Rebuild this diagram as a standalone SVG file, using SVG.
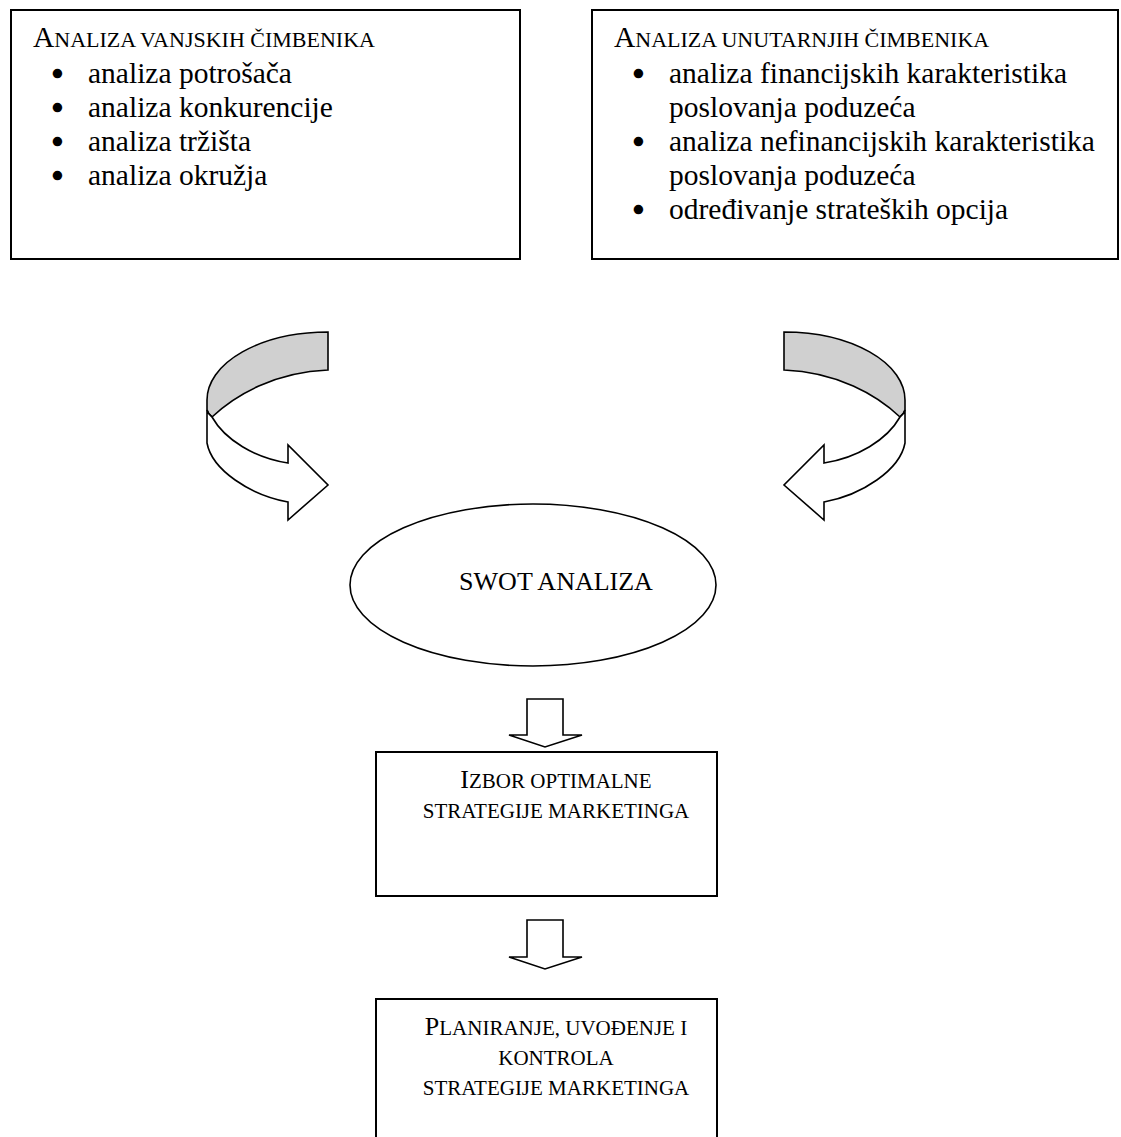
<svg xmlns="http://www.w3.org/2000/svg" xmlns:xlink="http://www.w3.org/1999/xlink" width="1121" height="1137" viewBox="0 0 1121 1137">
<style>
.box{fill:#fff;stroke:#000;stroke-width:2}
.shape{fill:#fff;stroke:#000;stroke-width:1.6;stroke-linejoin:miter}
.back{fill:#d0d0d0;stroke:#000;stroke-width:1.6}
text{font-family:"Liberation Serif","Times New Roman",serif;fill:#000}
.body{font-size:29.5px}
.big{font-size:29.5px}
.sc{font-size:22px}
.big2{font-size:26px}
.sc2{font-size:21px}
.bul{font-size:29.5px;stroke:#000;stroke-width:2.4;stroke-linejoin:round}
.c{text-anchor:middle}
</style>
<defs>
<g id="curvedArrow">
<path class="back" d="M328,332 A121,68 0 0 0 207,400 L207,410 Q208,414 212,417 C235,395 275,372 328,370 Z"/>
<path class="shape" d="M207,410 L207,443 C212,470 250,495 288,502 L288,520 L328,485 L288,445 L288,463 C255,458 225,440 212,417 Q208,414 207,410 Z"/>
</g>
</defs>
<rect width="1121" height="1137" fill="#fff"/>
<g id="connectors">
<use xlink:href="#curvedArrow" href="#curvedArrow"/>
<use xlink:href="#curvedArrow" href="#curvedArrow" transform="translate(1112,0) scale(-1,1)"/>
<path class="shape" d="M527,699 L563,699 L563,735 L582,735 L545,747 L509,735 L527,735 Z"/>
<path class="shape" d="M527,920 L563,920 L563,957 L582,957 L545,969 L509,957 L527,957 Z"/>
</g>
<g id="node-external">
<rect class="box" x="11" y="10" width="509" height="249"/>
<text x="33" y="47"><tspan class="big">A</tspan><tspan class="sc">NALIZA VANJSKIH ČIMBENIKA</tspan></text>
<text class="bul c" x="57.5" y="84">•</text><text class="body" x="88" y="83">analiza potrošača</text>
<text class="bul c" x="57.5" y="118">•</text><text class="body" x="88" y="117">analiza konkurencije</text>
<text class="bul c" x="57.5" y="152">•</text><text class="body" x="88" y="151">analiza tržišta</text>
<text class="bul c" x="57.5" y="186">•</text><text class="body" x="88" y="185">analiza okružja</text>
</g>
<g id="node-internal">
<rect class="box" x="592" y="10" width="526" height="249"/>
<text x="614" y="47"><tspan class="big">A</tspan><tspan class="sc">NALIZA UNUTARNJIH ČIMBENIKA</tspan></text>
<text class="bul c" x="638.5" y="84">•</text><text class="body" x="669" y="83">analiza financijskih karakteristika</text>
<text class="body" x="669" y="117">poslovanja poduzeća</text>
<text class="bul c" x="638.5" y="152">•</text><text class="body" x="669" y="151">analiza nefinancijskih karakteristika</text>
<text class="body" x="669" y="185">poslovanja poduzeća</text>
<text class="bul c" x="638.5" y="220">•</text><text class="body" x="669" y="219">određivanje strateških opcija</text>
</g>
<g id="node-swot">
<ellipse class="shape" cx="533" cy="585" rx="183" ry="81"/>
<text class="big2 c" x="556" y="590">SWOT ANALIZA</text>
</g>
<g id="node-izbor">
<rect class="box" x="376" y="752" width="341" height="144"/>
<text class="c" x="556" y="788"><tspan class="big2">I</tspan><tspan class="sc2">ZBOR OPTIMALNE</tspan></text>
<text class="c sc2" x="556" y="818">STRATEGIJE MARKETINGA</text>
</g>
<g id="node-planiranje">
<rect class="box" x="376" y="999" width="341" height="160"/>
<text class="c" x="556" y="1035"><tspan class="big2">P</tspan><tspan class="sc2">LANIRANJE, UVOĐENJE I</tspan></text>
<text class="c sc2" x="556" y="1065">KONTROLA</text>
<text class="c sc2" x="556" y="1095">STRATEGIJE MARKETINGA</text>
</g>
</svg>
